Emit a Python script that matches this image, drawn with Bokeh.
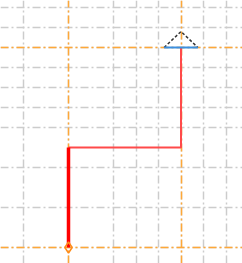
from bokeh.plotting import figure
from bokeh.models import Grid, FixedTicker, Range1d
from bokeh.embed import file_html
from bokeh.resources import INLINE

# grid tick positions
grey_x_ticks = [0, 2, 4, 5, 6, 7, 8, 9]
grey_y_ticks = [0, 2, 4, 6, 7, 8, 9, 10, 11, 12]
orange_x_ticks = [2, 7]
orange_y_ticks = [0, 10]

# tree path
trunk_x = [2, 2]
trunk_y = [0, 5]
branch_x = [2, 7, 7]
branch_y = [5, 5, 10]

# terminal triangle
tri_side_x = [6.25, 7, 7.75]
tri_side_y = [10, 10.8, 10]
tri_base_x = [6.25, 7.75]
tri_base_y = [10, 10]

# root marker
root_x = [2]
root_y = [0]

p = figure(width=242, height=263, output_backend="svg", toolbar_location=None,
           x_axis_type=None, y_axis_type=None, min_border=0,
           x_range=Range1d(-1.022, 9.733), y_range=Range1d(-0.8, 12.35))
p.outline_line_color = None
p.background_fill_color = "white"

for dim, ticks in ((0, grey_x_ticks), (1, grey_y_ticks)):
    g = Grid(dimension=dim, ticker=FixedTicker(ticks=ticks, minor_ticks=[]),
             grid_line_color="#cccccc", grid_line_width=1.5, grid_line_dash="8 3 2 3")
    p.add_layout(g)
for dim, ticks in ((0, orange_x_ticks), (1, orange_y_ticks)):
    g = Grid(dimension=dim, ticker=FixedTicker(ticks=ticks, minor_ticks=[]),
             grid_line_color="#ffa838", grid_line_width=1.5, grid_line_dash="8 3 2 3")
    p.add_layout(g)

p.line(branch_x, branch_y, line_color="#ff4a4a", line_width=2)
p.line(trunk_x, trunk_y, line_color="#ff0000", line_width=3.5)
p.line(tri_side_x, tri_side_y, line_color="#333333", line_width=1.5, line_dash="3 2")
p.line(tri_base_x, tri_base_y, line_color="#3b8fe0", line_width=2)
p.scatter(root_x, root_y, marker="diamond", size=11, fill_color=None,
          line_color="#ff8c1a", line_width=1.5)

open("out.html", "w").write(file_html(p, INLINE))
